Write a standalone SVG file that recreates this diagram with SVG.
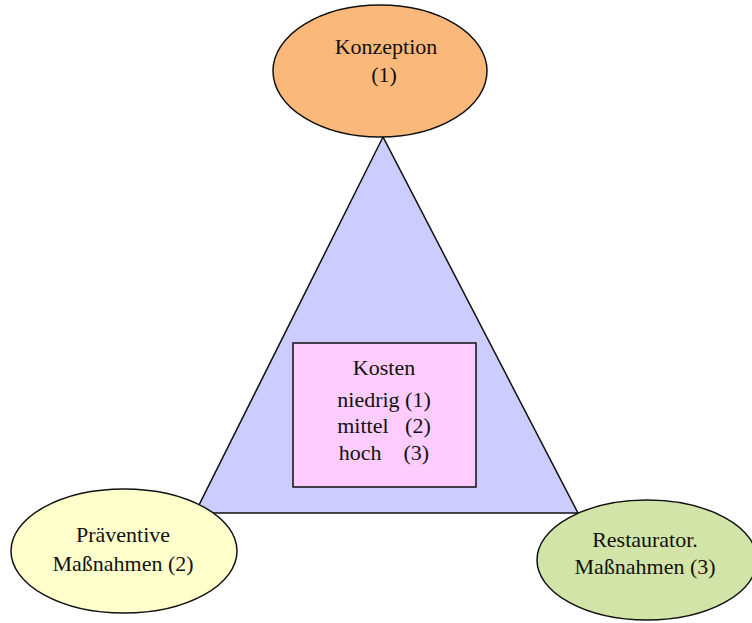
<svg xmlns="http://www.w3.org/2000/svg" width="752" height="623" viewBox="0 0 752 623">
<style>
.t{font-family:'Liberation Serif','DejaVu Serif',serif;font-size:22px;fill:#111;text-anchor:middle}
.s{stroke:#111;stroke-width:1.5}
</style>
<rect width="752" height="623" fill="#fff"/>
<g id="triangle"><polygon class="s" points="383,137 195,513 578,513" fill="#ccccff"/></g>
<g id="connectors"></g>
<g id="konzeption">
<ellipse class="s" cx="380" cy="71" rx="107" ry="66" fill="#fab97b"/>
<text class="t" x="386" y="54">Konzeption</text>
<text class="t" x="384" y="82">(1)</text>
</g>
<g id="kosten">
<rect class="s" x="293" y="343" width="183" height="144" fill="#ffccff"/>
<text class="t" x="384" y="375">Kosten</text>
<text class="t" x="384" y="407">niedrig (1)</text>
<text class="t" x="384" y="433" xml:space="preserve">mittel   (2)</text>
<text class="t" x="384" y="460" xml:space="preserve">hoch    (3)</text>
</g>
<g id="praeventive">
<ellipse class="s" cx="124" cy="551" rx="113" ry="62" fill="#ffffcc"/>
<text class="t" x="123" y="542">Präventive</text>
<text class="t" x="123" y="571">Maßnahmen (2)</text>
</g>
<g id="restaurator">
<ellipse class="s" cx="647" cy="560" rx="110" ry="60" fill="#d3e4a8"/>
<text class="t" x="645" y="547">Restaurator.</text>
<text class="t" x="645" y="574">Maßnahmen (3)</text>
</g>
</svg>
